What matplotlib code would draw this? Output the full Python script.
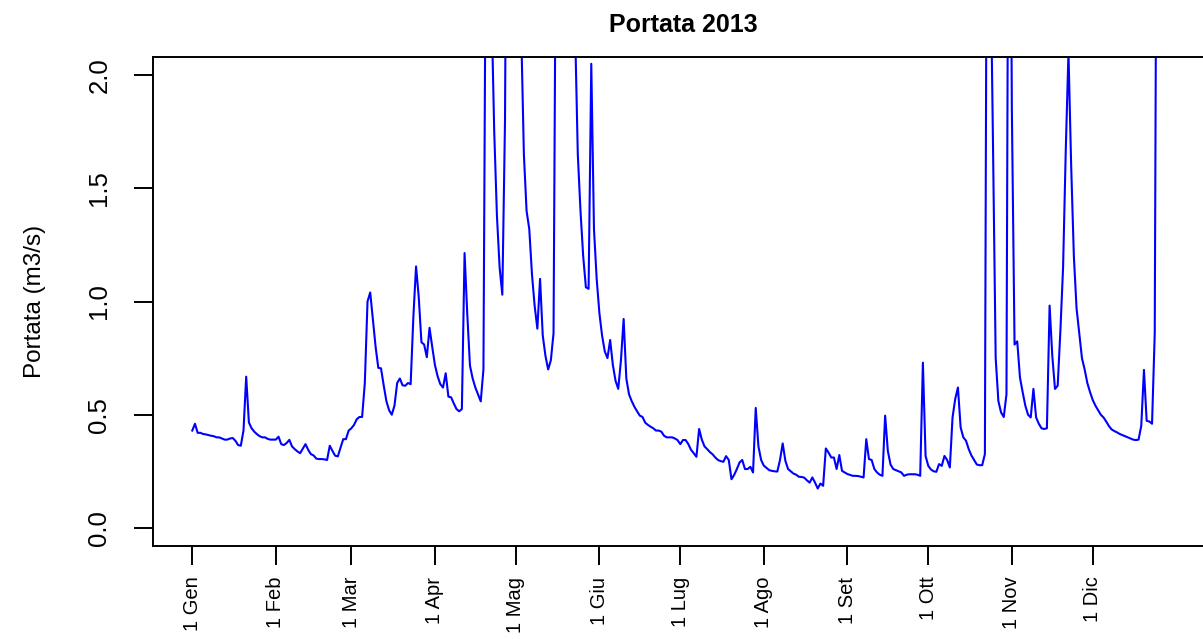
import numpy as np
import matplotlib
matplotlib.use("Agg")
import matplotlib.pyplot as plt

plt.rcParams['font.family'] = ['Liberation Sans', 'DejaVu Sans']

# portata giornaliera 2013 (m3/s), giorno 0 = 1 gennaio
portata = [
    0.43, 0.46, 0.42, 0.42, 0.415, 0.413, 0.41, 0.407, 0.405, 0.40,       # 0-9
    0.40, 0.395, 0.39, 0.39, 0.395, 0.397, 0.385, 0.366, 0.363, 0.43,     # 10-19
    0.668, 0.466, 0.44, 0.425, 0.414, 0.405, 0.40, 0.40, 0.393, 0.39,     # 20-29
    0.39, 0.39, 0.403, 0.37, 0.366, 0.375, 0.389, 0.36, 0.348, 0.338,     # 30-39
    0.33, 0.35, 0.37, 0.345, 0.326, 0.32, 0.306, 0.304, 0.304, 0.303,     # 40-49
    0.30, 0.363, 0.34, 0.319, 0.316, 0.355, 0.392, 0.392, 0.43, 0.44,     # 50-59
    0.455, 0.48, 0.49, 0.49, 0.64, 1.00, 1.04, 0.92, 0.80, 0.707,         # 60-69
    0.705, 0.63, 0.56, 0.52, 0.50, 0.54, 0.64, 0.66, 0.63, 0.628,         # 70-79
    0.64, 0.635, 0.93, 1.155, 1.02, 0.82, 0.81, 0.754, 0.884, 0.80,       # 80-89
    0.72, 0.67, 0.635, 0.62, 0.683, 0.58, 0.577, 0.55, 0.525, 0.515,      # 90-99
    0.525, 1.214, 0.945, 0.717, 0.66, 0.62, 0.59, 0.559, 0.70, 3.0,       # 100-109
    3.5, 2.3, 1.75, 1.38, 1.15, 1.03, 1.8, 4.0, 6.0, 5.0,                 # 110-119
    3.8, 2.9, 2.2, 1.65, 1.40, 1.32, 1.12, 0.98, 0.88, 1.10,              # 120-129
    0.85, 0.76, 0.70, 0.74, 0.86, 3.0, 5.0, 7.0, 6.0, 4.5,                # 130-139
    3.5, 2.8, 2.2, 1.65, 1.40, 1.20, 1.063, 1.056, 2.05, 1.32,            # 140-149
    1.10, 0.95, 0.85, 0.78, 0.75, 0.83, 0.72, 0.65, 0.614, 0.74,          # 150-159
    0.923, 0.66, 0.59, 0.56, 0.535, 0.515, 0.496, 0.49, 0.465, 0.455,     # 160-169
    0.447, 0.44, 0.43, 0.43, 0.425, 0.407, 0.40, 0.40, 0.40, 0.395,       # 170-179
    0.388, 0.37, 0.388, 0.388, 0.37, 0.345, 0.33, 0.314, 0.437, 0.39,     # 180-189
    0.36, 0.348, 0.335, 0.325, 0.311, 0.30, 0.295, 0.292, 0.317, 0.30,    # 190-199
    0.215, 0.234, 0.26, 0.289, 0.30, 0.26, 0.26, 0.27, 0.245, 0.53,       # 200-209
    0.36, 0.30, 0.275, 0.265, 0.255, 0.252, 0.25, 0.249, 0.30, 0.373,     # 210-219
    0.296, 0.26, 0.25, 0.24, 0.235, 0.226, 0.225, 0.222, 0.21, 0.20,      # 220-229
    0.223, 0.20, 0.174, 0.196, 0.186, 0.351, 0.333, 0.311, 0.311, 0.26,   # 230-239
    0.322, 0.252, 0.245, 0.238, 0.234, 0.23, 0.23, 0.229, 0.226, 0.223,   # 240-249
    0.392, 0.304, 0.30, 0.26, 0.245, 0.235, 0.23, 0.496, 0.34, 0.28,      # 250-259
    0.26, 0.255, 0.25, 0.245, 0.23, 0.235, 0.237, 0.237, 0.237, 0.235,    # 260-269
    0.23, 0.73, 0.318, 0.274, 0.258, 0.25, 0.248, 0.282, 0.274, 0.318,    # 270-279
    0.30, 0.267, 0.488, 0.57, 0.62, 0.444, 0.40, 0.385, 0.348, 0.32,      # 280-289
    0.30, 0.28, 0.277, 0.277, 0.326, 4.0, 2.6, 1.7, 0.75, 0.56,           # 290-299
    0.51, 0.49, 0.59, 4.0, 1.85, 0.81, 0.824, 0.665, 0.60, 0.54,          # 300-309
    0.50, 0.488, 0.614, 0.488, 0.46, 0.44, 0.437, 0.44, 0.982, 0.76,      # 310-319
    0.614, 0.628, 0.87, 1.15, 1.67, 2.10, 1.60, 1.20, 0.97, 0.86,         # 320-329
    0.75, 0.70, 0.64, 0.60, 0.565, 0.54, 0.52, 0.50, 0.488, 0.47,         # 330-339
    0.45, 0.435, 0.428, 0.422, 0.415, 0.41, 0.405, 0.40, 0.395, 0.39,     # 340-349
    0.388, 0.39, 0.451, 0.698, 0.473, 0.47, 0.46, 0.86, 4.0,              # 350-358
]
giorni = np.arange(len(portata))

# inizio dei mesi (giorno dell'anno) ed etichette
inizio_mesi = [0, 31, 59, 90, 120, 151, 181, 212, 243, 273, 304, 334]
etichette_mesi = ['1 Gen', '1 Feb', '1 Mar', '1 Apr', '1 Mag', '1 Giu',
                  '1 Lug', '1 Ago', '1 Set', '1 Ott', '1 Nov', '1 Dic']
y_ticks = [0.0, 0.5, 1.0, 1.5, 2.0]

fig = plt.figure(figsize=(12.03, 6.39), dpi=100)
ax = fig.add_axes([0.1272, 0.1455, 0.881, 0.7653])

ax.plot(giorni, portata, color='#0000FF', linewidth=1.5)

# stile "R base": estensione del 4% sugli assi
ax.set_xlim(-14.56, 378.56)
ax.set_ylim(-0.08, 2.08)

ax.set_xticks(inizio_mesi)
ax.set_xticklabels(etichette_mesi, rotation=90, fontsize=14.5, va='top', ha='center')
ax.set_yticks(y_ticks)
ax.set_yticklabels(['%.1f' % v for v in y_ticks], rotation=90, va='center', fontsize=18.5)
ax.tick_params(axis='both', length=14, width=1.4, direction='out', color='black')
ax.tick_params(axis='x', pad=8)
ax.tick_params(axis='y', pad=16)

for s in ax.spines.values():
    s.set_linewidth(1.4)

ax.set_ylabel('Portata (m3/s)', fontsize=17.5, labelpad=30)
ax.set_title('Portata 2013', fontsize=18, fontweight='bold', pad=18, x=0.5)

fig.savefig('out.png', dpi=100)
